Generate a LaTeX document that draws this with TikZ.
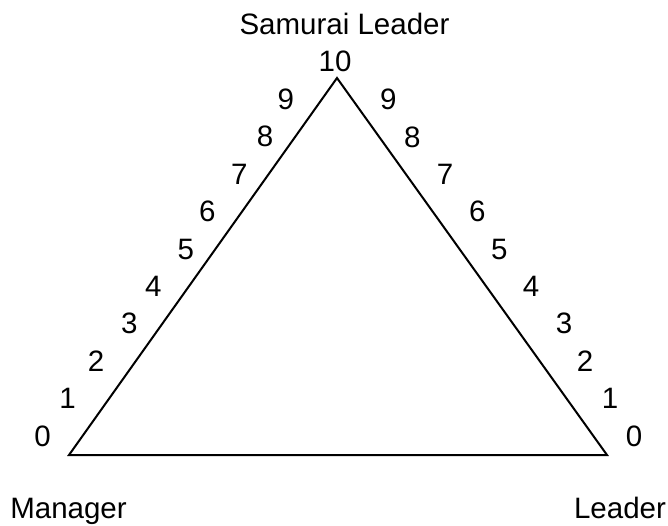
\documentclass[tikz,border=0pt]{standalone}
\usepackage{fontspec}
\setmainfont{Liberation Sans}
\begin{document}
\begin{tikzpicture}[x=1pt,y=-1pt,
  lbl/.style={inner sep=0pt, font=\fontsize{29.5}{35}\selectfont},
  num/.style={lbl, anchor=center},
  ttl/.style={lbl, anchor=base},
  edge/.style={line width=2pt, line join=miter}]
\useasboundingbox (0,0) rectangle (668,526);
\coordinate (top) at (337,78);
\coordinate (bl) at (69,455);
\coordinate (br) at (607,455);
\draw[edge] (bl) -- (top) -- (br) -- cycle;
\node[ttl] (title) at (344.5,35) {Samurai Leader};
\node[ttl] (ten) at (335,72) {10};
\node[ttl] (manager) at (68.5,518) {Manager};
\node[ttl] (leader) at (620,518) {Leader};
% left side
\node[num] (l0) at (42.7,436) {0};
\node[num] (l1) at (67.7,398.3) {1};
\node[num] (l2) at (96,361) {2};
\node[num] (l3) at (129.3,323.3) {3};
\node[num] (l4) at (153.3,286.7) {4};
\node[num] (l5) at (185.7,249.3) {5};
\node[num] (l6) at (207.3,211) {6};
\node[num] (l7) at (239.3,174.3) {7};
\node[num] (l8) at (265,136.7) {8};
\node[num] (l9) at (285.7,99.3) {9};
% right side
\node[num] (r9) at (388.3,99.3) {9};
\node[num] (r8) at (412.3,137.3) {8};
\node[num] (r7) at (445,174.3) {7};
\node[num] (r6) at (477.3,211) {6};
\node[num] (r5) at (499.3,249.3) {5};
\node[num] (r4) at (531,286.7) {4};
\node[num] (r3) at (564,323.3) {3};
\node[num] (r2) at (585,361) {2};
\node[num] (r1) at (610,398.3) {1};
\node[num] (r0) at (634,436) {0};
\end{tikzpicture}
\end{document}
